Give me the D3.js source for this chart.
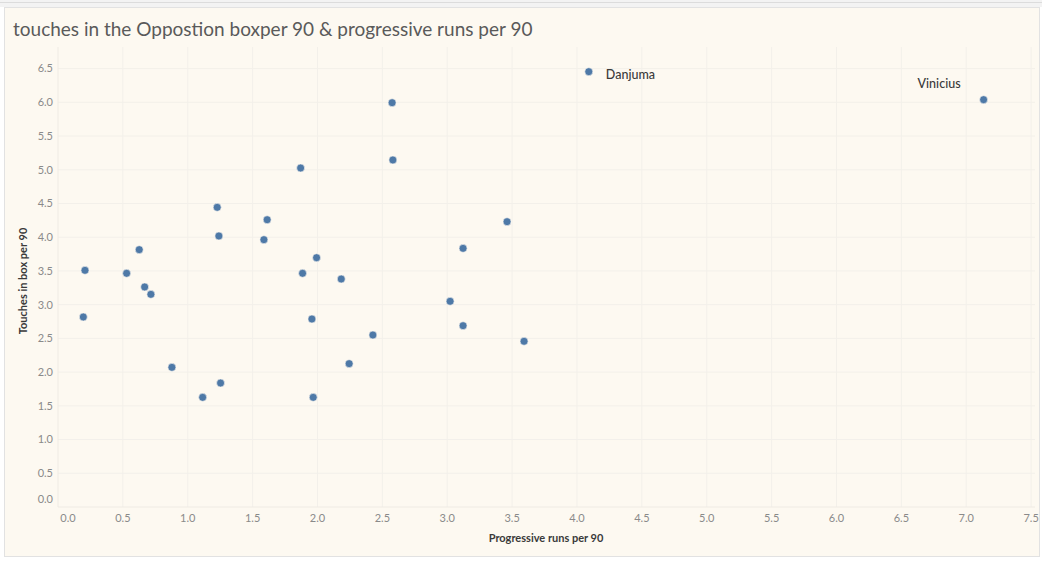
<!DOCTYPE html>
<meta charset="utf-8">
<title>touches in box & progressive runs</title>
<style>
  body { margin: 0; background: #ffffff; }
  svg { display: block; font-family: Lato, "Open Sans", sans-serif; }
</style>
<svg width="1042" height="564"></svg>
<script src="https://d3js.org/d3.v7.min.js"></script>
<script>

  // progressive runs per 90 (x) and touches in box per 90 (y)
  var progRuns = [1.227, 1.612, 1.240, 1.587, 0.626, 1.993, 0.208, 0.529, 1.885, 2.183,
                  0.668, 0.716, 0.195, 1.957, 0.878, 2.244, 1.253, 1.115, 1.967, 2.575,
                  2.581, 1.870, 3.461, 3.122, 3.022, 3.122, 2.427, 3.592, 4.091, 7.134];
  var touches = [4.443, 4.259, 4.018, 3.963, 3.815, 3.696, 3.509, 3.465, 3.465, 3.380,
                 3.262, 3.153, 2.817, 2.787, 2.071, 2.125, 1.838, 1.626, 1.626, 5.994,
                 5.145, 5.026, 4.230, 3.835, 3.050, 2.688, 2.550, 2.457, 6.454, 6.039];
  var players = ["", "", "", "", "", "", "", "", "", "",
                 "", "", "", "", "", "", "", "", "", "",
                 "", "", "", "", "", "", "", "", "Danjuma", "Vinicius"];
  var xTicks = [0, 0.5, 1, 1.5, 2, 2.5, 3, 3.5, 4, 4.5, 5, 5.5, 6, 6.5, 7, 7.5];
  var yTicks = [0, 0.5, 1, 1.5, 2, 2.5, 3, 3.5, 4, 4.5, 5, 5.5, 6, 6.5];

  var svg = d3.select("svg");

  // top strip and the cream sheet
  svg.append("rect").attr("x", 0).attr("y", 0).attr("width", 1042).attr("height", 7).attr("fill", "#f3f3f3");
  svg.append("line").attr("x1", 0).attr("x2", 1042).attr("y1", 2.5).attr("y2", 2.5).attr("stroke", "#dcdcdc");
  svg.append("rect").attr("x", 4.5).attr("y", 7.5).attr("width", 1035).attr("height", 549)
     .attr("fill", "#fdf9f1").attr("stroke", "#e2e2e2");

  svg.append("text")
     .attr("x", 13).attr("y", 36)
     .attr("font-size", 19).attr("fill", "#5a5a5a")
     .text("touches in the Oppostion boxper 90 & progressive runs per 90");

  var x = d3.scaleLinear().domain([0, 7.53]).range([58, 1035]);
  var y = d3.scaleLinear().domain([0, 6.82]).range([507, 47]);

  var g = svg.append("g");

  g.selectAll("line.vg").data(xTicks.slice(1)).enter().append("line")
     .attr("class", "vg")
     .attr("x1", function(d) { return x(d); }).attr("x2", function(d) { return x(d); })
     .attr("y1", y.range()[1]).attr("y2", y.range()[0])
     .attr("stroke", "#f3f0ea").attr("stroke-width", 1);

  g.selectAll("line.hg").data(yTicks.slice(1)).enter().append("line")
     .attr("class", "hg")
     .attr("x1", x.range()[0]).attr("x2", x.range()[1])
     .attr("y1", function(d) { return y(d); }).attr("y2", function(d) { return y(d); })
     .attr("stroke", "#f3f0ea").attr("stroke-width", 1);

  // zero lines
  g.append("line").attr("x1", x(0)).attr("x2", x(0)).attr("y1", y.range()[1]).attr("y2", y(0))
     .attr("stroke", "#efebe4");
  g.append("line").attr("x1", x(0)).attr("x2", x.range()[1]).attr("y1", y(0)).attr("y2", y(0))
     .attr("stroke", "#efebe4");

  // tick labels (Tableau nudges the end labels inside)
  g.selectAll("text.xt").data(xTicks).enter().append("text")
     .attr("class", "xt")
     .attr("x", function(d) { return d === 0 ? x(d) + 10 : x(d); })
     .attr("y", 522)
     .attr("text-anchor", "middle")
     .attr("font-size", 11).attr("fill", "#8a8a8a")
     .text(function(d) { return d3.format(".1f")(d); });

  g.selectAll("text.yt").data(yTicks).enter().append("text")
     .attr("class", "yt")
     .attr("x", 53)
     .attr("y", function(d) { return d === 0 ? y(d) - 8 : y(d); })
     .attr("dy", "0.35em")
     .attr("text-anchor", "end")
     .attr("font-size", 11).attr("fill", "#8a8a8a")
     .text(function(d) { return d3.format(".1f")(d); });

  svg.append("text")
     .attr("x", 546).attr("y", 542)
     .attr("text-anchor", "middle")
     .attr("font-size", 11).attr("font-weight", "bold").attr("fill", "#3a3a3a")
     .text("Progressive runs per 90");

  svg.append("text")
     .attr("transform", "translate(27,281) rotate(-90)")
     .attr("text-anchor", "middle")
     .attr("font-size", 11).attr("font-weight", "bold").attr("fill", "#3a3a3a")
     .text("Touches in box per 90");

  var pts = progRuns.map(function(v, i) { return { x: v, y: touches[i], name: players[i] }; });

  g.selectAll("circle").data(pts).enter().append("circle")
     .attr("cx", function(d) { return x(d.x); })
     .attr("cy", function(d) { return y(d.y); })
     .attr("r", 4)
     .attr("fill", "#4e79a7")
     .attr("stroke", "#fdf9f1").attr("stroke-width", 0.6);

  // labels: Danjuma sits to the right, Vinicius up-left of its mark
  var lab = pts.filter(function(d) { return d.name; });
  g.selectAll("text.lab").data(lab).enter().append("text")
     .attr("class", "lab")
     .attr("x", function(d) { return d.name === "Danjuma" ? x(d.x) + 17 : x(d.x) - 23; })
     .attr("y", function(d) { return d.name === "Danjuma" ? y(d.y) + 7 : y(d.y) - 12; })
     .attr("text-anchor", function(d) { return d.name === "Danjuma" ? "start" : "end"; })
     .attr("font-size", 12.5).attr("font-weight", 500).attr("fill", "#3a3a3a")
     .text(function(d) { return d.name; });

</script>
